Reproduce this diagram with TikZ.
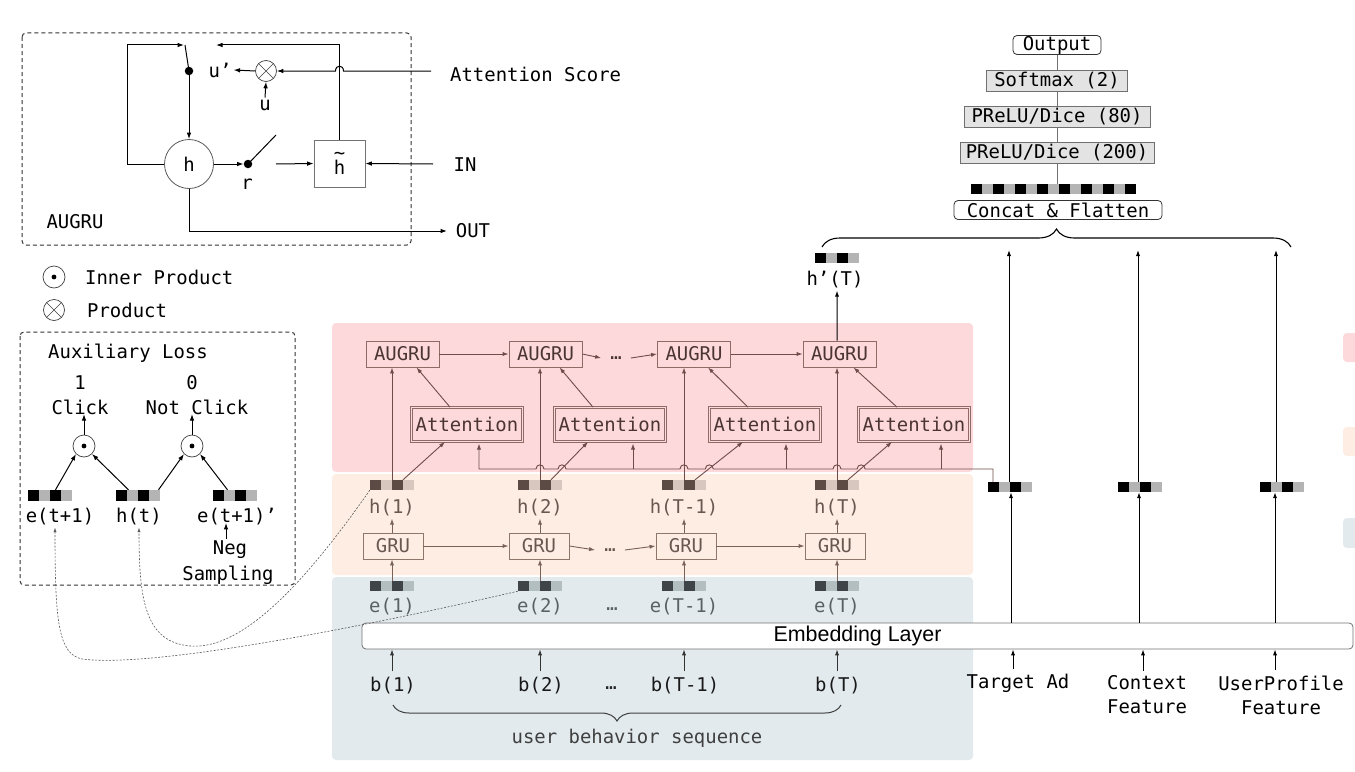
\documentclass[tikz,border=0pt]{standalone}
\usepackage{fontspec}
\setmonofont{DejaVu Sans Mono}
\setsansfont{Liberation Sans}
\usetikzlibrary{arrows.meta,decorations.pathreplacing}
\definecolor{bpink}{HTML}{FDD9DC}
\definecolor{bpeach}{HTML}{FDEDE2}
\definecolor{bblue}{HTML}{E2EAED}
\definecolor{brline}{HTML}{6E4C49}
\definecolor{brbox}{HTML}{8E6B67}
\definecolor{brtext}{HTML}{4B3532}
\definecolor{grline}{HTML}{7A6258}
\definecolor{grbox}{HTML}{8F766B}
\definecolor{grtext}{HTML}{6A5750}
\definecolor{hdark}{HTML}{5C4B44}
\definecolor{hlight}{HTML}{D8C7BE}
\definecolor{edark}{HTML}{3E4447}
\definecolor{elight}{HTML}{B3BEC1}
\definecolor{etext}{HTML}{596164}
\definecolor{vgray}{HTML}{B4B4B4}
\definecolor{stackfill}{HTML}{E3E3E3}
\definecolor{stackline}{HTML}{707070}
\newcommand{\cellvec}[6]{%
  \node[minimum width=44bp,minimum height=#6,inner sep=0pt] (#1) at (#2,#3) {};
  \fill[#4] (#1.south west) rectangle ([xshift=11bp]#1.north west);
  \fill[#5] ([xshift=11bp]#1.south west) rectangle ([xshift=22bp]#1.north west);
  \fill[#4] ([xshift=22bp]#1.south west) rectangle ([xshift=33bp]#1.north west);
  \fill[#5] ([xshift=33bp]#1.south west) rectangle ([xshift=44bp]#1.north west);
}
\begin{document}
\begin{tikzpicture}[x=1bp,y=-1bp,
  font=\ttfamily\fontsize{19}{23}\selectfont,
  every node/.style={inner sep=2bp},
  arr/.style={-{Latex[length=6.5bp,width=4.6bp]}},
  sarr/.style={-{Latex[length=6bp,width=4.2bp]}},
  blk/.style={draw=black,line width=1bp},
  brl/.style={draw=brline,line width=0.9bp},
  grl/.style={draw=grline,line width=0.9bp},
  dashbox/.style={draw=black!80,line width=1bp,dash pattern=on 4bp off 3bp,rounded corners=4bp},
  augbox/.style={draw=brbox,line width=0.9bp,minimum width=73bp,minimum height=26bp,inner sep=0pt,text=brtext},
  attbox/.style={draw=brbox,double=bpink,double distance=1.6bp,line width=0.7bp,minimum width=111bp,minimum height=34bp,inner sep=0pt,text=brtext},
  grubox/.style={draw=grbox,line width=0.9bp,minimum width=60bp,minimum height=26bp,inner sep=0pt,text=grtext},
  otim/.style={circle,draw=black!75,line width=0.7bp,minimum size=21bp,inner sep=0pt,
    path picture={\draw[black!75,line width=0.7bp] (path picture bounding box.north west) -- (path picture bounding box.south east)
      (path picture bounding box.north east) -- (path picture bounding box.south west);}},
  odot/.style={circle,draw=black!75,line width=0.7bp,minimum size=22bp,inner sep=0pt,
    path picture={\fill[black] (path picture bounding box.center) circle (2.4bp);}},
  dotn/.style={circle,fill=black,minimum size=8.5bp,inner sep=0pt},
  stackbox/.style={draw=stackline,fill=stackfill,line width=0.8bp,minimum height=21bp,inner sep=0pt},
  whitebox/.style={draw=black!80,fill=white,rounded corners=4bp,line width=0.8bp,minimum height=19bp,inner sep=0pt},
  curvy/.style={draw=black!65,line width=0.6bp,dash pattern=on 2bp off 1.5bp,-{Latex[length=4.5bp,width=3.2bp]}}
]
\useasboundingbox (0,0) rectangle (1355,771);
\clip (0,0) rectangle (1355,771);

% ---------------- background bands
\fill[bpink,rounded corners=4bp] (332,323) rectangle (973,472);
\fill[bpeach,rounded corners=4bp] (332,474) rectangle (973,575);
\fill[bblue,rounded corners=4bp] (332,577) rectangle (973,760);
\fill[bpink,rounded corners=4bp] (1343,333) rectangle (1372,362);
\fill[bpeach,rounded corners=4bp] (1343,427) rectangle (1372,456);
\fill[bblue,rounded corners=4bp] (1343,518) rectangle (1372,548);

% ---------------- AUGRU inset
\draw[dashbox] (22,33) rectangle (411,245);
\node[circle,draw=black!65,line width=0.8bp,minimum size=49bp,inner sep=0pt] (hc) at (189,164) {h};
\node[dotn] (d1) at (189,71) {};
\node[dotn] (d2) at (248,164) {};
\node[otim] (ot) at (266,71) {};
\node (up) at (220,70) {u’};
\node (ul) at (265,105) {u};
\node[draw=black!55,line width=0.8bp,minimum width=51bp,minimum height=47bp,inner sep=0pt,align=center,
  font=\ttfamily\fontsize{19}{17}\selectfont] (ht) at (339.5,163.5) {\string~\\[-2bp]h};
\node (rl) at (247,184) {r};
\node[anchor=west] (as) at (448,74) {Attention Score};
\node (inl) at (465,165) {IN};
\node (outl) at (473,231) {OUT};
\node (augl) at (75,222) {AUGRU};
\coordinate (ytop) at (0,45);
\coordinate (sw1) at (184,45);
\coordinate (sw2) at (276,135);
\coordinate (asr) at (431,71);
\coordinate (inr) at (433,164);
\coordinate (outr) at (447,231);
\coordinate (rsw) at (276,164);
\coordinate (lft) at (127,164);
\draw[blk,arr] (hc.west) -- (lft) -- (lft |- ytop) -- (sw1);
\draw[blk] ([xshift=1bp]sw1) -- (d1.center);
\draw[blk,arr] (d1.south) -- (hc.north);
\draw[blk,arr] (ht.north) -- (ht.north |- ytop) -- (216,45);
\draw[blk,arr] (ot.west) -- (up.east);
\draw[blk,arr] (ul.north) -- (ot.south);
\draw[blk,arr] (asr) -- (343.5,71) .. controls (343.5,64.5) and (335.5,64.5) .. (335.5,71) -- (ot.east);
\draw[blk,arr] (hc.east) -- (d2.west);
\draw[blk] (d2.center) -- (sw2);
\draw[blk,arr] (rsw) -- (ht.west);
\draw[blk,arr] (inr) -- (ht.east);
\draw[blk,arr] (hc.south) -- (hc.south |- outr) -- (outr);

% legend
\node[odot] (lg1) at (54,277) {};
\node[anchor=west] (lg1t) at (83,277) {Inner Product};
\node[otim] (lg2) at (54,310) {};
\node[anchor=west] (lg2t) at (85,310) {Product};

% ---------------- Auxiliary loss inset
\draw[dashbox] (20,332) rectangle (295,585);
\node (auxt) at (128,353) {Auxiliary Loss};
\node (one) at (80,383) {1};
\node (click) at (80,407) {Click};
\node (zero) at (192,383) {0};
\node (nclick) at (197,407) {Not Click};
\node[odot] (ip1) at (84,446) {};
\node[odot] (ip2) at (192,446) {};
\cellvec{xe1}{50.5}{495.5}{black}{vgray}{11bp}
\cellvec{xh}{138.5}{495.5}{black}{vgray}{11bp}
\cellvec{xe2}{235.5}{495.5}{black}{vgray}{11bp}
\node (xe1l) at (60,517) {e(t+1)};
\node (xhl) at (139,517) {h(t)};
\node (xe2l) at (237,517) {e(t+1)’};
\node (neg) at (230,550) {Neg};
\node (samp) at (228,575) {Sampling};
\draw[blk,arr] (ip1.north) -- (ip1.north |- click.base);
\draw[blk,arr] (ip2.north) -- (ip2.north |- nclick.base);
\draw[blk,arr] ([xshift=5bp]xe1.north) -- (ip1.south west);
\draw[blk,arr] ([xshift=-10bp]xh.north) -- (ip1.south east);
\draw[blk,arr] ([xshift=20bp]xh.north) -- (ip2.south west);
\draw[blk,arr] ([xshift=-8bp]xe2.north) -- (ip2.south east);
\draw[blk,arr] ([xshift=-4bp]neg.north) -- ([xshift=-4bp]neg.north |- xe2l.base);

% ---------------- main network
\foreach \i/\x in {1/402.5,2/545.5,3/694,4/839.5} \node[augbox] (aug\i) at (\x,354) {AUGRU};
\foreach \i/\x in {1/467,2/610,3/765,4/914} \node[attbox] (att\i) at (\x,424.5) {Attention};
\foreach \i/\x in {1/393,2/539,3/686,4/835} \node[grubox] (gru\i) at (\x,546) {GRU};
\foreach \i/\v/\t in {1/392/1,2/540/2,3/684/T-1,4/837/T}{
  \cellvec{hv\i}{\v}{485}{hdark}{hlight}{10bp}
  \cellvec{ev\i}{\v}{586}{edark}{elight}{10bp}
  \node[text=grtext] (hl\i) at (\v,508) {h(\t)};
  \node[text=etext] (el\i) at (\v,607) {e(\t)};
  \node[text=black!90] (bl\i) at (\v+1,686) {b(\t)};
}
\node[text=etext,inner sep=1bp] (edots) at (612,609) {…};
\node[text=black!85,inner sep=1bp] (bdots) at (611,688) {…};
\node[text=brtext,inner sep=1bp] (adots) at (616,358) {…};
\node[text=grtext,inner sep=1bp] (gdots) at (610,550) {…};

\node[draw=black!55,fill=white,rounded corners=4bp,line width=0.8bp,minimum width=991bp,minimum height=26bp,inner sep=0pt,
  font=\sffamily\fontsize{21.5}{24}\selectfont] (emb) at (857.5,636) {Embedding Layer};

% b -> embedding, e -> GRU -> h
\foreach \i in {1,...,4}{
  \draw[draw=black!80,line width=0.9bp,sarr] ([yshift=4bp,xshift=-1bp]bl\i.north) -- ([xshift=-1bp]bl\i.north |- emb.south);
  \draw[grl,sarr] (ev\i.north) -- (ev\i.north |- gru\i.south);
  \draw[grl,sarr] (hl\i.south |- gru\i.north) -- (hl\i.south);
}
% GRU chain
\draw[grl,sarr] (gru1.east) -- (gru2.west);
\draw[grl,sarr] (gru2.east) -- ([xshift=-8bp]gdots.west);
\draw[grl,sarr] ([xshift=8bp]gdots.east) -- (gru3.west);
\draw[grl,sarr] (gru3.east) -- (gru4.west);
% AUGRU chain
\draw[brl,sarr] (aug1.east) -- (aug2.west);
\draw[brl,sarr] (aug2.east) -- ([xshift=-8bp]adots.west);
\draw[brl,sarr] ([xshift=8bp]adots.east) -- (aug3.west);
\draw[brl,sarr] (aug3.east) -- (aug4.west);
% h -> AUGRU, h -> attention, attention -> AUGRU
\foreach \i in {1,...,4}{
  \draw[brl,sarr] (hv\i.north) -- (hv\i.north |- aug\i.south);
  \draw[brl,sarr] ([xshift=11bp]hv\i.north) -- ([xshift=-22bp]att\i.south);
  \draw[brl,sarr] ([xshift=-17bp]att\i.north) -- ([xshift=14bp]aug\i.south);
}

% right feature columns
\cellvec{tv}{1010}{487}{black}{vgray}{10bp}
\cellvec{cv2}{1140}{487}{black}{vgray}{10bp}
\cellvec{uv}{1282}{487}{black}{vgray}{10bp}
\node (tlab) at (1018,683) {Target Ad};
\node[align=center,font=\ttfamily\fontsize{19}{24}\selectfont] (clab) at (1147,695) {Context\\Feature};
\node[align=center,font=\ttfamily\fontsize{19}{24}\selectfont] (ulab) at (1281,695) {UserProfile\\Feature};
\coordinate (bry) at (0,250);
\coordinate (ttop) at ([xshift=-1bp]tv.north);
\coordinate (ctop) at ([xshift=-2bp]cv2.north);
\coordinate (utop) at ([xshift=-6bp]uv.north);
\coordinate (tbot) at ([xshift=1bp]tv.south);
\coordinate (cbot) at ([xshift=-1bp]cv2.south);
\coordinate (ubot) at ([xshift=-7bp]uv.south);
\coordinate (tin) at ([xshift=-5bp,yshift=3bp]tlab.north);
\coordinate (cin) at ([xshift=-4bp,yshift=3bp]clab.north);
\coordinate (uin) at ([xshift=-6bp,yshift=3bp]ulab.north);
\foreach \a/\b/\c in {ttop/tbot/tin,ctop/cbot/cin,utop/ubot/uin}{
  \draw[blk,sarr] (\a) -- (\a |- bry);
  \draw[blk,sarr] (\b |- emb.north) -- (\b);
  \draw[blk,sarr] (\c) -- (\c |- emb.south);
}

% target ad -> attention line with hops
\coordinate (tvc) at ([xshift=-17bp]tv.north);
\draw[brl,sarr] (tvc) -- (tvc |- 0,469) -- (865.1,469) .. controls (865.1,463.5) and (857.1,463.5) .. (857.1,469)
  -- (841,469) .. controls (841,463.5) and (833,463.5) .. (833,469)
  -- (713.3,469) .. controls (713.3,463.5) and (705.3,463.5) .. (705.3,469)
  -- (688,469) .. controls (688,463.5) and (680,463.5) .. (680,469)
  -- (566,469) .. controls (566,463.5) and (558,463.5) .. (558,469)
  -- (544,469) .. controls (544,463.5) and (536,463.5) .. (536,469)
  -- (479,469) -- (479,443.5);
\foreach \x/\i in {633/2,786/3,941/4}{
  \draw[brl,sarr] (\x,469) -- (\x,443.5);
}

% h'(T)
\cellvec{hp}{837}{258}{black}{vgray}{10bp}
\node (hpl) at (835,280) {h’(T)};
\draw[blk,sarr] ([xshift=-2.5bp]aug4.north) -- ([xshift=2bp]hpl.south);

% braces
\draw[decorate,decoration={brace,amplitude=18bp},line width=1.1bp] (822,247) -- (1291,247);
\draw[decorate,decoration={brace,amplitude=16bp},line width=1bp,draw=black!75] (841,705) -- (393,705);
\node[text=black!75] (ubs) at (637,738) {user behavior sequence};

% top stack
\node[whitebox,minimum width=208bp] (concat) at (1058,210) {Concat \& Flatten};
\node[minimum width=165bp,minimum height=10bp,inner sep=0pt] (cvec) at (1054,189) {};
\foreach \k in {0,2,...,14}{\fill[black] ([xshift=\k*11bp]cvec.south west) rectangle ([xshift=\k*11bp+11bp]cvec.north west);}
\foreach \k in {1,3,...,13}{\fill[vgray] ([xshift=\k*11bp]cvec.south west) rectangle ([xshift=\k*11bp+11bp]cvec.north west);}
\node[stackbox,minimum width=194bp] (p200) at (1057,152.5) {PReLU/Dice (200)};
\node[stackbox,minimum width=186bp] (p80) at (1057,116.5) {PReLU/Dice (80)};
\node[stackbox,minimum width=141bp] (smax) at (1057,80.5) {Softmax (2)};
\node[whitebox,minimum width=88bp] (outp) at (1057,45) {Output};
\draw[stackline,line width=0.6bp] (cvec.north -| p200.south) -- (p200.south);
\draw[stackline,line width=0.6bp] (p200.north) -- (p80.south);
\draw[stackline,line width=0.6bp] (p80.north) -- (smax.south);
\draw[stackline,line width=0.6bp] (smax.north) -- (outp.south);

% dotted links to auxiliary loss
\draw[curvy] (hv1.south west) .. controls (300,590) and (240,650) .. (190,646) .. controls (145,642) and (139,600) .. (xhl.south);
\draw[curvy] (ev2.south west) .. controls (350,630) and (150,668) .. (82,659) .. controls (58,654) and (55,620) .. ([xshift=-5bp]xe1l.south);
\end{tikzpicture}
\end{document}
